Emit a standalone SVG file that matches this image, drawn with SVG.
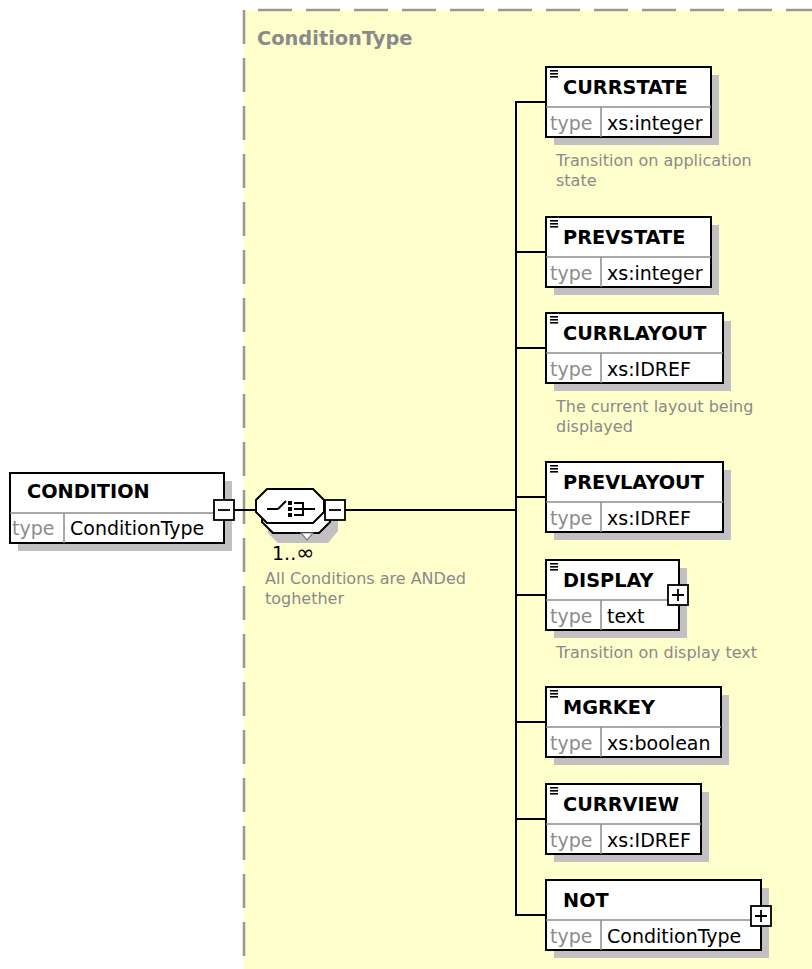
<svg xmlns="http://www.w3.org/2000/svg" width="812" height="969" viewBox="0 0 812 969">
  <style>
    .shadow { fill: #c2c0c2; }
    .box { fill: #ffffff; stroke: #000000; stroke-width: 2; }
    .div { stroke: #8c8c8c; stroke-width: 1.5; fill: none; }
    .icon { stroke: #000000; stroke-width: 1.6; }
    .wire { stroke: #000000; stroke-width: 2; fill: none; }
    .title { font-family: "DejaVu Sans", Verdana, sans-serif; font-weight: bold; font-size: 19.3px; fill: #000000; }
    .tlabel { font-family: "DejaVu Sans", Verdana, sans-serif; font-size: 19px; fill: #8c8c8c; }
    .tval { font-family: "DejaVu Sans", Verdana, sans-serif; font-size: 19px; fill: #000000; }
    .desc { font-family: "DejaVu Sans", Verdana, sans-serif; font-size: 16px; fill: #8a8a8a; }
    .hdr { font-family: "DejaVu Sans", Verdana, sans-serif; font-weight: bold; font-size: 19.4px; fill: #8a8a8a; }
    .btn { fill: #ffffff; stroke: #000000; stroke-width: 1.8; }
    .sign { stroke: #000000; stroke-width: 1.8; }
    .frame { stroke: #9a9a9a; stroke-width: 2.6; stroke-dasharray: 34 14; fill: none; }
  </style>
  <defs>
    <g id="listIcon">
      <line class="icon" x1="0" y1="0.8" x2="8" y2="0.8"/>
      <line class="icon" x1="0" y1="3.8" x2="8" y2="3.8"/>
      <line class="icon" x1="0" y1="6.8" x2="8" y2="6.8"/>
    </g>
  </defs>

  <rect width="812" height="969" fill="#ffffff"/>

  <!-- complex type area -->
  <g id="conditionType-area">
    <rect x="244" y="10" width="568" height="959" fill="#ffffcc"/>
    <line class="frame" x1="244" y1="10" x2="244" y2="969"/>
    <line class="frame" x1="258" y1="10" x2="812" y2="10"/>
    <text class="hdr" x="257" y="45">ConditionType</text>
  </g>

  <!-- connectors -->
  <g id="connectors">
    <line class="wire" x1="234" y1="510" x2="256" y2="510"/>
    <line class="wire" x1="345" y1="510" x2="516" y2="510"/>
    <line class="wire" x1="516" y1="102" x2="516" y2="916"/>
    <line class="wire" x1="515" y1="102" x2="546" y2="102"/>
    <line class="wire" x1="516" y1="252" x2="546" y2="252"/>
    <line class="wire" x1="516" y1="348" x2="546" y2="348"/>
    <line class="wire" x1="516" y1="497" x2="546" y2="497"/>
    <line class="wire" x1="516" y1="595" x2="546" y2="595"/>
    <line class="wire" x1="516" y1="722" x2="546" y2="722"/>
    <line class="wire" x1="516" y1="819" x2="546" y2="819"/>
    <line class="wire" x1="515" y1="915" x2="546" y2="915"/>
  </g>

  <!-- root element -->
  <g id="node-CONDITION">
    <rect class="shadow" x="18" y="481" width="214" height="70"/>
    <rect class="box" x="10" y="473" width="214" height="70"/>
    <line class="div" x1="10" y1="513" x2="224" y2="513"/>
    <line class="div" x1="64" y1="513" x2="64" y2="543"/>
    <text class="title" x="27" y="498">CONDITION</text>
    <text class="tlabel" x="12" y="535">type</text>
    <text class="tval" x="70" y="535">ConditionType</text>
    <rect class="btn" x="214" y="500" width="20" height="20"/>
    <line class="sign" x1="218" y1="510" x2="230" y2="510"/>
  </g>

  <!-- sequence compositor, 1..unbounded -->
  <g id="node-sequence">
    <polygon class="shadow" points="278,505 324,505 338,519 338,531 328,543 278,543 268,533 268,519"/>
    <polygon class="box" points="273,499 319,499 330,510 330,522 319,533 273,533 262,522 262,510"/>
    <polygon points="301,533 313,533 307,540" fill="#ffffff" stroke="#808080" stroke-width="1.2"/>
    <polygon class="box" points="267,489 313,489 324,500 324,512 313,523 267,523 256,512 256,500"/>
    <line class="wire" x1="267" y1="509" x2="278" y2="509"/>
    <line class="wire" x1="278" y1="509" x2="286" y2="501"/>
    <rect x="288" y="501" width="4" height="4" fill="#000"/>
    <rect x="288" y="507" width="4" height="4" fill="#000"/>
    <rect x="288" y="513" width="4" height="4" fill="#000"/>
    <path class="wire" d="M294,503 H303 V515 H294 M294,509 H315"/>
    <rect class="btn" x="325" y="500" width="20" height="20"/>
    <line class="sign" x1="329" y1="510" x2="341" y2="510"/>
    <text class="tval" x="272" y="560">1..<tspan font-size="22px">∞</tspan></text>
    <text class="desc" x="265" y="584">All Conditions are ANDed</text>
    <text class="desc" x="265" y="604">toghether</text>
  </g>

  <g id="node-CURRSTATE">
    <rect class="shadow" x="554" y="75" width="165" height="70"/>
    <rect class="box" x="546" y="67" width="165" height="70"/>
    <line class="div" x1="546" y1="107" x2="711" y2="107"/>
    <line class="div" x1="601" y1="107" x2="601" y2="137"/>
    <use href="#listIcon" x="550" y="70"/>
    <text class="title" x="563" y="94">CURRSTATE</text>
    <text class="tlabel" x="550" y="130">type</text>
    <text class="tval" x="607" y="130">xs:integer</text>
    <text class="desc" x="556" y="166">Transition on application</text>
    <text class="desc" x="556" y="186">state</text>
  </g>

  <g id="node-PREVSTATE">
    <rect class="shadow" x="554" y="225" width="165" height="70"/>
    <rect class="box" x="546" y="217" width="165" height="70"/>
    <line class="div" x1="546" y1="257" x2="711" y2="257"/>
    <line class="div" x1="601" y1="257" x2="601" y2="287"/>
    <use href="#listIcon" x="550" y="220"/>
    <text class="title" x="563" y="244">PREVSTATE</text>
    <text class="tlabel" x="550" y="280">type</text>
    <text class="tval" x="607" y="280">xs:integer</text>
  </g>

  <g id="node-CURRLAYOUT">
    <rect class="shadow" x="554" y="321" width="177" height="70"/>
    <rect class="box" x="546" y="313" width="177" height="70"/>
    <line class="div" x1="546" y1="353" x2="723" y2="353"/>
    <line class="div" x1="601" y1="353" x2="601" y2="383"/>
    <use href="#listIcon" x="550" y="316"/>
    <text class="title" x="563" y="340">CURRLAYOUT</text>
    <text class="tlabel" x="550" y="376">type</text>
    <text class="tval" x="607" y="376">xs:IDREF</text>
    <text class="desc" x="556" y="412">The current layout being</text>
    <text class="desc" x="556" y="432">displayed</text>
  </g>

  <g id="node-PREVLAYOUT">
    <rect class="shadow" x="554" y="470" width="177" height="70"/>
    <rect class="box" x="546" y="462" width="177" height="70"/>
    <line class="div" x1="546" y1="502" x2="723" y2="502"/>
    <line class="div" x1="601" y1="502" x2="601" y2="532"/>
    <use href="#listIcon" x="550" y="465"/>
    <text class="title" x="563" y="489">PREVLAYOUT</text>
    <text class="tlabel" x="550" y="525">type</text>
    <text class="tval" x="607" y="525">xs:IDREF</text>
  </g>

  <g id="node-DISPLAY">
    <rect class="shadow" x="554" y="568" width="133" height="70"/>
    <rect class="box" x="546" y="560" width="133" height="70"/>
    <line class="div" x1="546" y1="600" x2="679" y2="600"/>
    <line class="div" x1="601" y1="600" x2="601" y2="630"/>
    <use href="#listIcon" x="550" y="563"/>
    <text class="title" x="563" y="587">DISPLAY</text>
    <text class="tlabel" x="550" y="623">type</text>
    <text class="tval" x="607" y="623">text</text>
    <rect class="btn" x="668" y="585" width="20" height="20"/>
    <path class="sign" d="M672,595 H684 M678,589 V601"/>
    <text class="desc" x="556" y="658">Transition on display text</text>
  </g>

  <g id="node-MGRKEY">
    <rect class="shadow" x="554" y="695" width="175" height="70"/>
    <rect class="box" x="546" y="687" width="175" height="70"/>
    <line class="div" x1="546" y1="727" x2="721" y2="727"/>
    <line class="div" x1="601" y1="727" x2="601" y2="757"/>
    <use href="#listIcon" x="550" y="690"/>
    <text class="title" x="563" y="714">MGRKEY</text>
    <text class="tlabel" x="550" y="750">type</text>
    <text class="tval" x="607" y="750">xs:boolean</text>
  </g>

  <g id="node-CURRVIEW">
    <rect class="shadow" x="554" y="792" width="155" height="70"/>
    <rect class="box" x="546" y="784" width="155" height="70"/>
    <line class="div" x1="546" y1="824" x2="701" y2="824"/>
    <line class="div" x1="601" y1="824" x2="601" y2="854"/>
    <use href="#listIcon" x="550" y="787"/>
    <text class="title" x="563" y="811">CURRVIEW</text>
    <text class="tlabel" x="550" y="847">type</text>
    <text class="tval" x="607" y="847">xs:IDREF</text>
  </g>

  <g id="node-NOT">
    <rect class="shadow" x="554" y="888" width="215" height="70"/>
    <rect class="box" x="546" y="880" width="215" height="70"/>
    <line class="div" x1="546" y1="920" x2="761" y2="920"/>
    <line class="div" x1="601" y1="920" x2="601" y2="950"/>
    <text class="title" x="563" y="907">NOT</text>
    <text class="tlabel" x="550" y="943">type</text>
    <text class="tval" x="607" y="943">ConditionType</text>
    <rect class="btn" x="751" y="906" width="20" height="20"/>
    <path class="sign" d="M755,916 H767 M761,910 V922"/>
  </g>
</svg>
